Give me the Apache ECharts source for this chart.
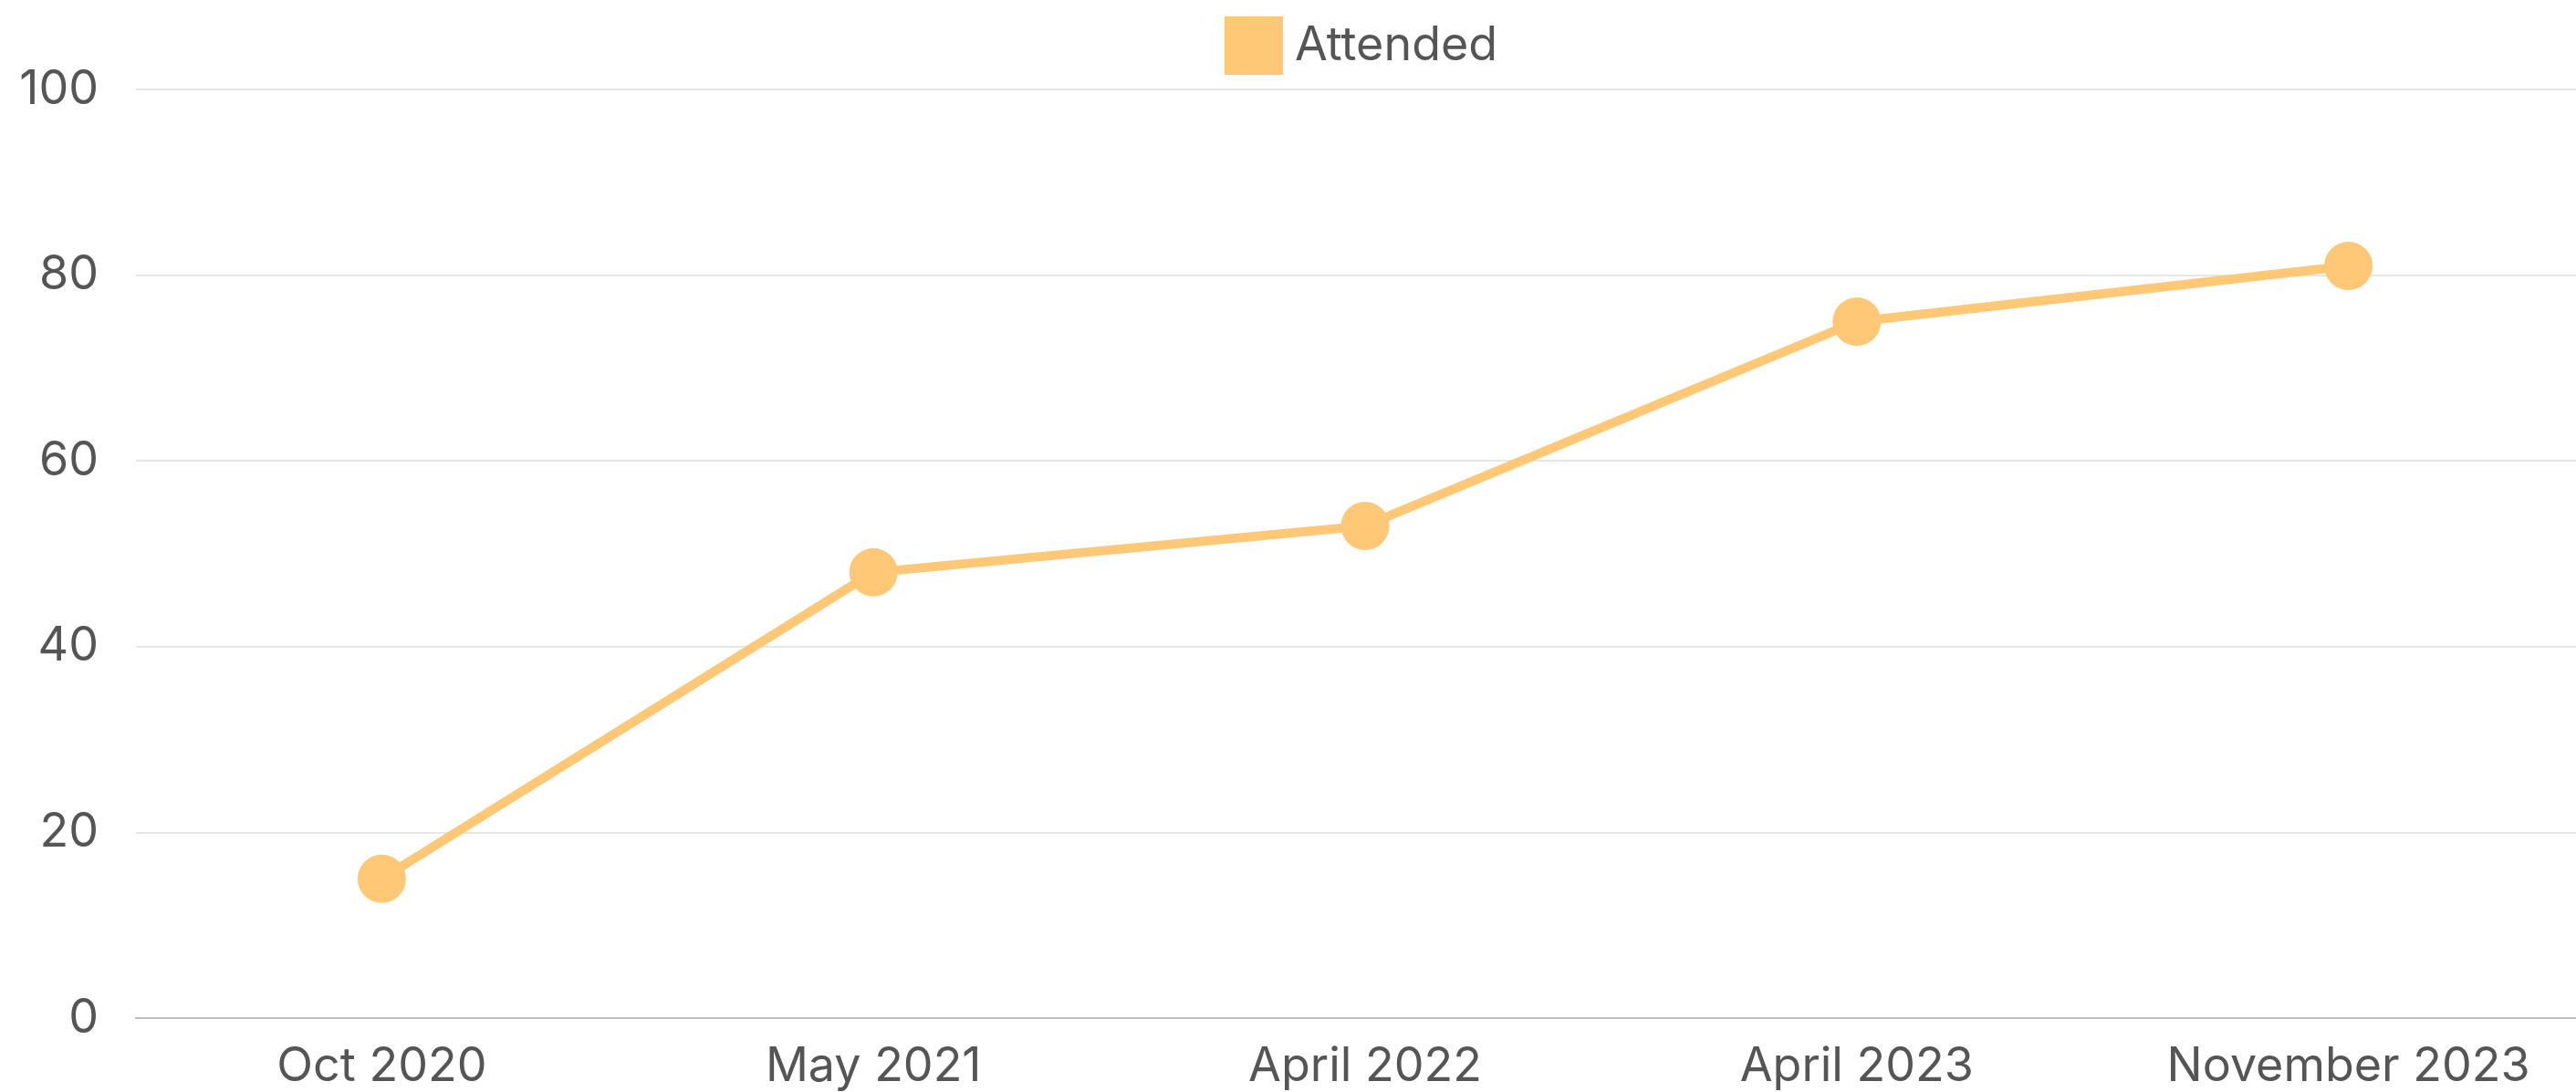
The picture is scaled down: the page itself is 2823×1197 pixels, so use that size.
<!DOCTYPE html>
<html>
<head>
<meta charset="utf-8">
<script src="https://cdn.jsdelivr.net/npm/echarts@6/dist/echarts.min.js"></script>
<style>
html,body{margin:0;padding:0;background:#fff;overflow:hidden;}
#chart{width:2823px;height:1197px;}
</style>
</head>
<body>
<div id="chart"></div>
<script>
const categories = ['Oct 2020', 'May 2021', 'April 2022', 'April 2023', 'November 2023'];
const attended = [15, 48, 53, 75, 81];
const seriesName = 'Attended';
const yTicks = { min: 0, max: 100, interval: 20 };

const FONT = 'Inter, "Noto Sans", sans-serif';
const chart = echarts.init(document.getElementById('chart'));
chart.setOption({
  backgroundColor: '#ffffff',
  animation: false,
  legend: {
    left: 1337,
    top: 13,
    itemWidth: 64,
    itemHeight: 64,
    icon: 'rect',
    textStyle: { fontFamily: FONT, fontSize: 52, color: '#555555', padding: [0, 0, 0, 8] },
    data: [seriesName]
  },
  grid: { left: 149, width: 2694, top: 98, height: 1018, outerBoundsMode: 'none', containLabel: false },
  xAxis: {
    type: 'category',
    data: categories,
    boundaryGap: true,
    axisLine: { show: true, lineStyle: { color: '#bdbdbd', width: 2 } },
    axisTick: { show: false },
    axisLabel: { fontFamily: FONT, fontSize: 52, color: '#555555', margin: 27 },
    splitLine: { show: false }
  },
  yAxis: {
    type: 'value',
    min: yTicks.min,
    max: yTicks.max,
    interval: yTicks.interval,
    axisLine: { show: false },
    axisTick: { show: false },
    axisLabel: { fontFamily: FONT, fontSize: 52, color: '#555555', margin: 41 },
    splitLine: { lineStyle: { color: '#e6e6e6', width: 2 } }
  },
  series: [{
    name: seriesName,
    type: 'line',
    data: attended,
    symbol: 'circle',
    symbolSize: 53,
    itemStyle: { color: '#fec877' },
    lineStyle: { color: '#fec877', width: 10 }
  }]
});
</script>
</body>
</html>
